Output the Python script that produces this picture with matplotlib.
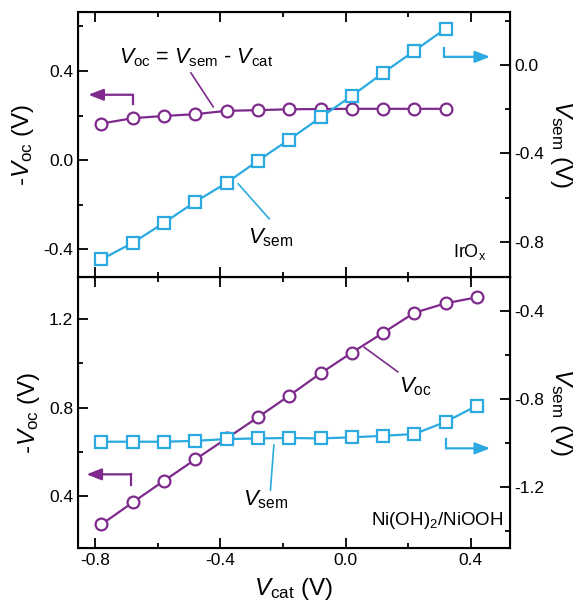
import matplotlib
matplotlib.use('Agg')
import matplotlib.pyplot as plt

plt.rcParams['font.family'] = ['Liberation Sans', 'DejaVu Sans']
plt.rcParams['mathtext.fontset'] = 'custom'
plt.rcParams['mathtext.rm'] = 'Liberation Sans'
plt.rcParams['mathtext.it'] = 'Liberation Sans:italic'
plt.rcParams['axes.unicode_minus'] = False

PURPLE = '#7E2A8C'
BLUE = '#2AAAE1'

# IrOx (top panel)
x_top = [-0.78, -0.68, -0.58, -0.48, -0.38, -0.28, -0.18, -0.08, 0.02, 0.12, 0.22, 0.32]
voc_top = [0.164, 0.188, 0.198, 0.206, 0.221, 0.224, 0.228, 0.229, 0.230, 0.230, 0.230, 0.230]
vsem_top = [-0.880, -0.805, -0.714, -0.619, -0.533, -0.433, -0.337, -0.237, -0.139, -0.035, 0.065, 0.166]

# Ni(OH)2/NiOOH (bottom panel)
x_bot = [-0.78, -0.68, -0.58, -0.48, -0.38, -0.28, -0.18, -0.08, 0.02, 0.12, 0.22, 0.32, 0.42]
voc_bot = [0.270, 0.370, 0.468, 0.565, 0.660, 0.756, 0.854, 0.955, 1.049, 1.139, 1.230, 1.273, 1.300]
vsem_bot = [-0.995, -0.995, -0.995, -0.991, -0.983, -0.980, -0.978, -0.980, -0.975, -0.968, -0.960, -0.904, -0.831]

x_ticks = [-0.8, -0.4, 0.0, 0.4]
x_minor = [-0.6, -0.2, 0.2]

fig = plt.figure(figsize=(5.82, 6.11), dpi=100)
ax1 = fig.add_axes([0.134, 0.5466, 0.742, 0.4334])
ax2 = fig.add_axes([0.134, 0.1031, 0.742, 0.4435])
ax1r = ax1.twinx()
ax2r = ax2.twinx()

line_kw = dict(lw=1.6, markersize=8.5, markeredgewidth=1.6, markerfacecolor='white')

ax1.plot(x_top, voc_top, '-o', color=PURPLE, **line_kw)
ax1r.plot(x_top, vsem_top, '-s', color=BLUE, **dict(line_kw, markersize=8))
ax2.plot(x_bot, voc_bot, '-o', color=PURPLE, **line_kw)
ax2r.plot(x_bot, vsem_bot, '-s', color=BLUE, **dict(line_kw, markersize=8))

for ax in (ax1, ax2):
    ax.set_xlim(-0.855, 0.525)
    ax.set_xticks(x_ticks)
    ax.set_xticks(x_minor, minor=True)
    ax.tick_params(which='both', direction='in', top=True, right=False, labelsize=12.5, width=1.3)
    ax.tick_params(which='major', length=7)
    ax.tick_params(which='minor', length=3.5)
    ax.set_xticklabels(['-0.8', '-0.4', '0.0', '0.4'])
    for s in ax.spines.values():
        s.set_linewidth(1.5)
for ax in (ax1r, ax2r):
    ax.tick_params(which='both', direction='in', labelsize=12.5, width=1.3)
    ax.tick_params(which='major', length=7)
    ax.tick_params(which='minor', length=3.5)

ax1.tick_params(labelbottom=False)

ax1.set_ylim(-0.524, 0.663)
ax1.set_yticks([-0.4, 0.0, 0.4])
ax1.set_yticks([-0.2, 0.2, 0.6], minor=True)
ax1.set_yticklabels(['-0.4', '0.0', '0.4'])
ax1r.set_ylim(-0.96, 0.24)
ax1r.set_yticks([-0.8, -0.4, 0.0])
ax1r.set_yticks([-0.6, -0.2, 0.2], minor=True)
ax1r.set_yticklabels(['-0.8', '-0.4', '0.0'])

ax2.set_ylim(0.163, 1.392)
ax2.set_yticks([0.4, 0.8, 1.2])
ax2.set_yticks([0.6, 1.0], minor=True)
ax2.set_yticklabels(['0.4', '0.8', '1.2'])
ax2r.set_ylim(-1.479, -0.245)
ax2r.set_yticks([-1.2, -0.8, -0.4])
ax2r.set_yticks([-1.4, -1.0, -0.6], minor=True)
ax2r.set_yticklabels(['-1.2', '-0.8', '-0.4'])

for ax in (ax1, ax2):
    ax.set_ylabel(r'-$V_{\mathrm{oc}}$ (V)', fontsize=17.5, labelpad=5)
for ax in (ax1r, ax2r):
    ax.set_ylabel(r'$V_{\mathrm{sem}}$ (V)', fontsize=17.5, rotation=270, labelpad=21)
ax2.set_xlabel(r'$V_{\mathrm{cat}}$ (V)', fontsize=17.5, labelpad=6)

arrow_kw = dict(arrowstyle='-|>,head_length=0.9,head_width=0.35', lw=1.6, shrinkA=0, shrinkB=0)

# annotations, top panel (left-axis data coords)
ax1.text(-0.478, 0.457, r'$V_{\mathrm{oc}}$ = $V_{\mathrm{sem}}$ - $V_{\mathrm{cat}}$',
         fontsize=15.5, ha='center', va='center')
ax1.plot([-0.494, -0.423], [0.391, 0.239], color=PURPLE, lw=1.2)
ax1.plot([-0.680, -0.680], [0.252, 0.293], color=PURPLE, lw=1.6)
ax1.annotate('', xy=(-0.822, 0.293), xytext=(-0.680, 0.293),
             arrowprops=dict(arrow_kw, color=PURPLE))
ax1.text(-0.238, -0.347, r'$V_{\mathrm{sem}}$', fontsize=16, ha='center', va='center')
ax1.plot([-0.343, -0.244], [-0.106, -0.263], color=BLUE, lw=1.2)
ax1.plot([0.316, 0.316], [0.504, 0.463], color=BLUE, lw=1.6)
ax1.annotate('', xy=(0.462, 0.463), xytext=(0.316, 0.463),
             arrowprops=dict(arrow_kw, color=BLUE))
ax1.text(0.449, -0.412, r'IrO$_{\mathrm{x}}$', fontsize=13, ha='right', va='center')

# annotations, bottom panel
ax2.plot([-0.685, -0.685], [0.450, 0.497], color=PURPLE, lw=1.6)
ax2.annotate('', xy=(-0.828, 0.497), xytext=(-0.685, 0.497),
             arrowprops=dict(arrow_kw, color=PURPLE))
ax2.text(-0.254, 0.380, r'$V_{\mathrm{sem}}$', fontsize=16, ha='center', va='center')
ax2.plot([-0.229, -0.240], [0.630, 0.426], color=BLUE, lw=1.2)
ax2.text(0.222, 0.893, r'$V_{\mathrm{oc}}$', fontsize=16, ha='center', va='center')
ax2.plot([0.060, 0.167], [1.073, 0.962], color=PURPLE, lw=1.2)
ax2.plot([0.321, 0.321], [0.656, 0.615], color=BLUE, lw=1.6)
ax2.annotate('', xy=(0.462, 0.615), xytext=(0.321, 0.615),
             arrowprops=dict(arrow_kw, color=BLUE))
ax2.text(0.503, 0.290, r'Ni(OH)$_{\mathrm{2}}$/NiOOH', fontsize=13.5, ha='right', va='center')

fig.savefig('out.png', dpi=100)
